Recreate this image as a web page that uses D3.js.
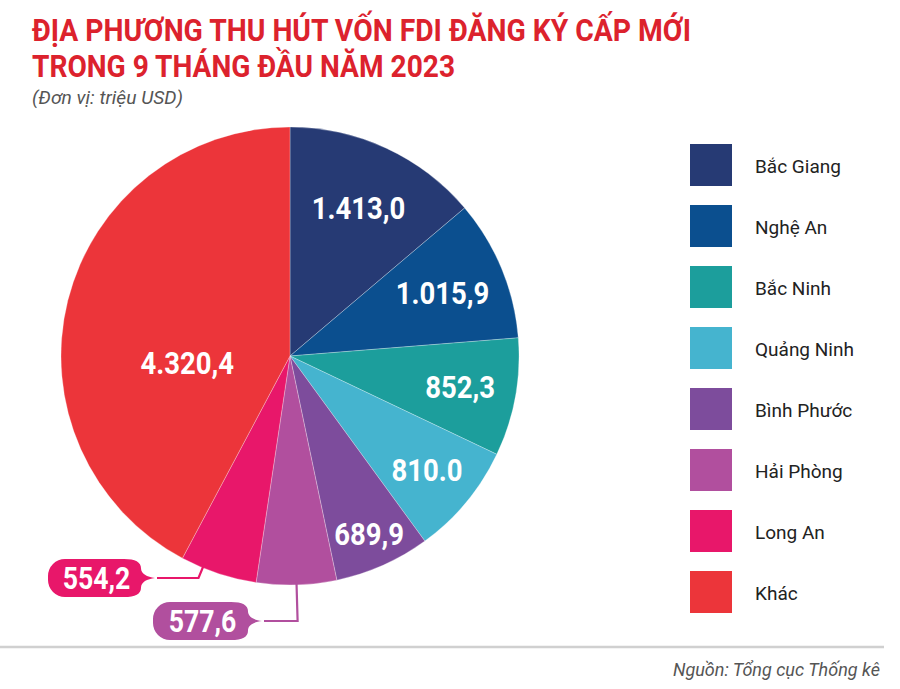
<!DOCTYPE html>
<html><head><meta charset="utf-8">
<script src="https://cdn.jsdelivr.net/npm/d3@7"></script>
<style>
html,body{margin:0;padding:0;background:#fff;}
svg{display:block;}
</style></head>
<body>
<svg id="chart" width="900" height="689"></svg>
<script>
// ---- data ----
const categories = ["Bắc Giang","Nghệ An","Bắc Ninh","Quảng Ninh","Bình Phước","Hải Phòng","Long An","Khác"];
const values = [1413.0, 1015.9, 852.3, 810.0, 689.9, 577.6, 554.2, 4320.4];
const valueLabels = ["1.413,0","1.015,9","852,3","810.0","689,9","577,6","554,2","4.320,4"];
const colors = ["#263a74","#0b4f8f","#1c9e9c","#45b4cf","#7d4c9c","#b14f9e","#e8176a","#ec353a"];

// ---- layout ----
const W = 900, H = 689;
const cx = 290, cy = 356, R = 229;
const condensed = 0.86;
// label placement: inside = radius from centre (optional angle override in degrees); callout = tip of bubble
const labelLayout = [
  {r:163}, {r:165}, {r:173}, {r:178}, {r:195},
  {callout:true, angle:null, tip:[262,621], w:95},
  {callout:true, angle:202.4, tip:[155,578], w:93},
  {r:103, angle:266}
];

const svg = d3.select("#chart");

// title
const title = svg.append("g").attr("fill","#dc222d").attr("font-family","Roboto, 'Liberation Sans', sans-serif").attr("font-weight","700");
title.append("text").attr("x",32).attr("y",40.5).attr("font-size",31)
  .attr("textLength",659).attr("lengthAdjust","spacingAndGlyphs")
  .text("ĐỊA PHƯƠNG THU HÚT VỐN FDI ĐĂNG KÝ CẤP MỚI");
title.append("text").attr("x",32).attr("y",76.5).attr("font-size",31)
  .attr("textLength",423).attr("lengthAdjust","spacingAndGlyphs")
  .text("TRONG 9 THÁNG ĐẦU NĂM 2023");
svg.append("text").attr("x",32).attr("y",104).attr("font-size",19)
  .attr("font-family","Roboto, sans-serif").attr("font-style","italic").attr("fill","#555")
  .attr("textLength",151).attr("lengthAdjust","spacingAndGlyphs")
  .text("(Đơn vị: triệu USD)");

// pie
const data = categories.map((c,i)=>({cat:c, value:values[i], label:valueLabels[i], color:colors[i], lay:labelLayout[i]}));
const pie = d3.pie().sort(null).value(d=>d.value);
const arcs = pie(data);
const arc = d3.arc().innerRadius(0).outerRadius(R);
const g = svg.append("g").attr("transform",`translate(${cx},${cy})`);
g.selectAll("path.slice").data(arcs).join("path").attr("class","slice")
  .attr("d",arc).attr("fill",d=>d.data.color)
  .attr("stroke","rgba(255,255,255,0.35)").attr("stroke-width",0.8);

const toRad = a => a*Math.PI/180;
const polar = (ang, r) => [r*Math.sin(ang), -r*Math.cos(ang)];

// inside labels
arcs.filter(d=>!d.data.lay.callout).forEach(d=>{
  const L = d.data.lay;
  const ang = L.angle!=null ? toRad(L.angle) : (d.startAngle+d.endAngle)/2;
  const [x,y] = polar(ang, L.r);
  g.append("text").attr("transform",`translate(${x},${y+11}) scale(${condensed},1)`)
    .attr("text-anchor","middle").attr("font-family","Roboto, sans-serif").attr("font-weight","700")
    .attr("font-size",32).attr("fill","#fff").text(d.data.label);
});

// callouts
arcs.filter(d=>d.data.lay.callout).forEach(d=>{
  const L = d.data.lay;
  const ang = L.angle!=null ? toRad(L.angle) : (d.startAngle+d.endAngle)/2;
  const [px,py] = polar(ang, R-4);
  const sx = cx+px, sy = cy+py;
  const [tx,ty] = L.tip;
  const dirx = Math.sin(ang), diry = -Math.cos(ang);
  const t = (ty - sy)/diry;
  const ex = sx + dirx*t;
  svg.append("path").attr("d",`M${sx},${sy}L${ex},${ty}L${tx+2},${ty}`)
    .attr("fill","none").attr("stroke",d.data.color).attr("stroke-width",2.2);
  const h = 38, r = 17, right = tx-14, left = right-L.w, top = ty-h/2, bot = ty+h/2;
  const p = `M${left+r},${top} L${right-r},${top} Q${right},${top} ${right},${top+r*0.55}
    C${right},${ty-4} ${right+6},${ty-1} ${tx},${ty} C${right+6},${ty+1} ${right},${ty+4} ${right},${bot-r*0.55}
    Q${right},${bot} ${right-r},${bot} L${left+r},${bot} A${r},${r} 0 0 1 ${left},${bot-r} L${left},${top+r} A${r},${r} 0 0 1 ${left+r},${top} Z`;
  svg.append("path").attr("d",p).attr("fill",d.data.color);
  svg.append("text").attr("transform",`translate(${(left+right)/2+2},${ty+11}) scale(${condensed},1)`)
    .attr("text-anchor","middle").attr("font-family","Roboto, sans-serif").attr("font-weight","700")
    .attr("font-size",31).attr("fill","#fff").text(d.data.label);
});

// legend
const legend = svg.append("g").attr("transform","translate(690,144)");
const ly = d3.scaleBand().domain(categories).range([0, 61*categories.length]).paddingInner(0);
const items = legend.selectAll("g").data(data).join("g").attr("transform",d=>`translate(0,${ly(d.cat)})`);
items.append("rect").attr("width",42).attr("height",42).attr("fill",d=>d.color);
items.append("text").attr("x",65).attr("y",29).attr("font-family","Roboto, sans-serif")
  .attr("font-size",19).attr("fill","#222").text(d=>d.cat);

// footer
svg.append("line").attr("x1",0).attr("x2",884).attr("y1",647).attr("y2",647)
  .attr("stroke","#d0d0d0").attr("stroke-width",2.5);
svg.append("text").attr("x",880).attr("y",676).attr("text-anchor","end")
  .attr("font-family","Roboto, sans-serif").attr("font-style","italic").attr("font-size",18).attr("fill","#555")
  .text("Nguồn: Tổng cục Thống kê");
</script>
</body></html>
